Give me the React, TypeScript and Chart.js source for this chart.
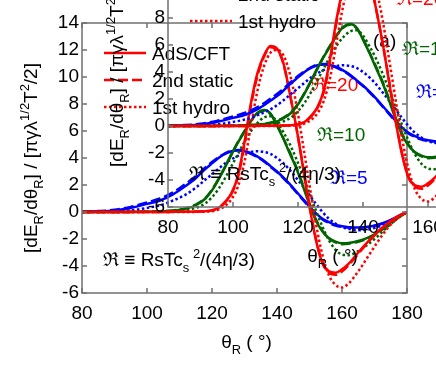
import React, { useEffect, useRef } from "react";
import { Chart, registerables } from "chart.js";

Chart.register(...registerables);

const FONT = "'Liberation Sans', Arial, Helvetica, sans-serif";

// polar angle theta_R (degrees)
const theta = [80, 85, 90, 95, 100, 104, 108, 112, 115, 118, 120, 122, 124, 126, 128, 130, 132, 134, 136, 138, 140, 142, 144, 146, 148, 150, 152, 154, 156, 158, 160, 162, 165, 168, 171, 174, 177, 180];

// R = 20 (red)
const r20AdS = [0, 0, 0, 0, 0, 0, 0.01, 0.02, 0.03, 0.06, 0.12, 0.3, 0.75, 1.4, 2.7, 5.2, 8.1, 10.3, 11.6, 12.3, 12.1, 11.0, 8.7, 6.2, 3.3, 0.4, -2.1, -3.8, -4.4, -4.5, -4.25, -3.85, -3.0, -2.2, -1.45, -0.85, -0.35, 0];
const r20Static = [0, 0, 0, 0, 0, 0, 0.01, 0.02, 0.03, 0.06, 0.12, 0.3, 0.7, 1.35, 2.6, 5.0, 7.9, 10.1, 11.5, 12.2, 12.05, 10.95, 8.7, 6.2, 3.4, 0.5, -2.0, -3.8, -4.5, -4.65, -4.4, -3.95, -3.1, -2.25, -1.5, -0.85, -0.35, 0];
const r20Hydro = [0, 0, 0, 0, 0, 0, 0, 0, 0.01, 0.03, 0.06, 0.18, 0.45, 0.95, 1.9, 3.7, 6.4, 9.0, 10.8, 11.8, 12.0, 11.6, 10.2, 7.9, 5.0, 2.0, -0.9, -3.2, -4.7, -5.4, -5.6, -5.3, -4.4, -3.3, -2.2, -1.2, -0.5, 0];

// R = 10 (green)
const r10AdS = [0, 0, 0, 0.01, 0.02, 0.05, 0.1, 0.25, 0.5, 1.0, 1.6, 2.4, 3.3, 4.25, 5.15, 5.95, 6.75, 7.35, 7.55, 7.3, 6.4, 5.4, 4.3, 3.2, 1.9, 0.55, -0.65, -1.45, -1.95, -2.2, -2.32, -2.3, -2.15, -1.9, -1.5, -0.95, -0.45, 0];
const r10Static = [0, 0, 0, 0.01, 0.03, 0.06, 0.12, 0.28, 0.55, 1.05, 1.65, 2.45, 3.35, 4.3, 5.2, 6.0, 6.75, 7.3, 7.5, 7.25, 6.45, 5.45, 4.4, 3.3, 2.0, 0.65, -0.55, -1.4, -1.95, -2.25, -2.38, -2.35, -2.2, -1.95, -1.55, -1.0, -0.45, 0];
const r10Hydro = [0, 0, 0, 0, 0.01, 0.02, 0.05, 0.15, 0.3, 0.65, 1.1, 1.7, 2.5, 3.4, 4.3, 5.2, 6.0, 6.6, 7.0, 7.1, 6.7, 5.9, 5.0, 3.9, 2.7, 1.4, 0.1, -1.1, -2.1, -2.8, -3.15, -3.2, -2.9, -2.4, -1.8, -1.1, -0.5, 0];

// R = 5 (blue)
const r5AdS = [0.02, 0.05, 0.12, 0.3, 0.6, 0.85, 1.3, 1.95, 2.5, 3.2, 3.6, 4.0, 4.3, 4.5, 4.55, 4.5, 4.35, 4.1, 3.8, 3.4, 3.0, 2.55, 2.05, 1.5, 0.95, 0.4, -0.1, -0.5, -0.75, -0.95, -1.05, -1.12, -1.15, -1.1, -0.95, -0.7, -0.35, 0];
const r5Static = [0.03, 0.07, 0.16, 0.38, 0.7, 1.0, 1.45, 2.1, 2.65, 3.3, 3.7, 4.05, 4.35, 4.55, 4.6, 4.5, 4.3, 4.05, 3.75, 3.35, 2.95, 2.5, 2.0, 1.45, 0.9, 0.35, -0.15, -0.55, -0.8, -1.0, -1.1, -1.15, -1.18, -1.12, -0.97, -0.72, -0.36, 0];
const r5Hydro = [0, 0.02, 0.05, 0.12, 0.3, 0.5, 0.85, 1.3, 1.8, 2.4, 2.8, 3.2, 3.6, 3.9, 4.15, 4.35, 4.45, 4.5, 4.45, 4.3, 4.0, 3.6, 3.1, 2.5, 1.9, 1.25, 0.6, 0.0, -0.5, -0.85, -1.1, -1.25, -1.35, -1.3, -1.1, -0.8, -0.4, 0];

const legendLabels = ["AdS/CFT", "2nd static", "1st hydro"];
const curveLabels = ["\u211C=20", "\u211C=10", "\u211C=5"];

const RED = "#ff0000";
const GREEN = "#006400";
const BLUE = "#0000ff";
const SOLID: number[] = [];
const DASHED = [10, 4];
const DOTTED = [2.5, 2.5];

type Seg = [string, number]; // 0 normal, 1 subscript, 2 superscript

function drawRich(ctx: CanvasRenderingContext2D, segs: Seg[], x: number, y: number, size: number, align: "left" | "center") {
  const small = size * 0.68;
  let w = 0;
  for (const [t, m] of segs) {
    ctx.font = `${m ? small : size}px ${FONT}`;
    w += ctx.measureText(t).width;
  }
  let cx = align === "center" ? x - w / 2 : x;
  ctx.textAlign = "left";
  ctx.textBaseline = "alphabetic";
  for (const [t, m] of segs) {
    ctx.font = `${m ? small : size}px ${FONT}`;
    const dy = m === 1 ? size * 0.3 : m === 2 ? -size * 0.42 : 0;
    ctx.fillText(t, cx, y + dy);
    cx += ctx.measureText(t).width;
  }
}

const decor = {
  id: "decor",
  afterDraw(chart: any) {
    const { ctx, chartArea: a, scales } = chart;
    const xs = scales.x;
    const ys = scales.y;
    ctx.save();
    // frame
    ctx.strokeStyle = "#707070";
    ctx.lineWidth = 1.5;
    ctx.setLineDash([]);
    ctx.strokeRect(a.left, a.top, a.right - a.left, a.bottom - a.top);
    // inward ticks
    const TL = 5;
    ctx.beginPath();
    for (const t of xs.ticks) {
      const px = xs.getPixelForValue(t.value);
      ctx.moveTo(px, a.bottom);
      ctx.lineTo(px, a.bottom - TL);
      ctx.moveTo(px, a.top);
      ctx.lineTo(px, a.top + TL);
    }
    for (const t of ys.ticks) {
      const py = ys.getPixelForValue(t.value);
      ctx.moveTo(a.left, py);
      ctx.lineTo(a.left + TL, py);
      ctx.moveTo(a.right, py);
      ctx.lineTo(a.right - TL, py);
    }
    ctx.stroke();

    // legend
    const dashes = [SOLID, DASHED, DOTTED];
    ctx.fillStyle = "#000";
    for (let i = 0; i < 3; i++) {
      const y = a.top + 30 + i * 27;
      ctx.strokeStyle = RED;
      ctx.lineWidth = 2.5;
      ctx.setLineDash(dashes[i]);
      ctx.beginPath();
      ctx.moveTo(a.left + 22, y);
      ctx.lineTo(a.left + 64, y);
      ctx.stroke();
      ctx.setLineDash([]);
      ctx.font = `19px ${FONT}`;
      ctx.textAlign = "left";
      ctx.textBaseline = "alphabetic";
      ctx.fillText(legendLabels[i], a.left + 70, y + 7);
    }

    // curve labels
    ctx.font = `19px ${FONT}`;
    ctx.fillStyle = RED;
    ctx.fillText(curveLabels[0], a.left + 228, a.top + 68);
    ctx.fillStyle = GREEN;
    ctx.fillText(curveLabels[1], a.left + 235, a.top + 118);
    ctx.fillStyle = BLUE;
    ctx.fillText(curveLabels[2], a.left + 248, a.top + 161);
    ctx.fillStyle = "#000";
    ctx.fillText("(a)", a.left + 291, a.top + 24);

    // formula
    drawRich(ctx, [["\u211C \u2261 RsTc", 0], ["s", 1], [" ", 1], ["2", 2], ["/(4\u03B7/3)", 0]], a.left + 21, a.top + 243, 19, "left");

    // x title
    drawRich(ctx, [["\u03B8", 0], ["R", 1], [" ( \u00B0)", 0]], (a.left + a.right) / 2 + 82 - 80 + 0, a.bottom + 55, 19, "center");

    // y title
    ctx.translate(37, (a.top + a.bottom) / 2);
    ctx.rotate(-Math.PI / 2);
    drawRich(ctx, [["[dE", 0], ["R", 1], ["/d\u03B8", 0], ["R", 1], ["] / [\u03C0\u03B3\u03BB", 0], ["1/2", 2], ["T", 0], ["2", 2], ["/2]", 0]], 0, 0, 19, "center");
    ctx.restore();
  },
};

function ds(label: string, vals: number[], color: string, dash: number[]) {
  return {
    label,
    data: theta.map((t, i) => ({ x: t, y: vals[i] })),
    borderColor: color,
    backgroundColor: color,
    borderWidth: 2.5,
    borderDash: dash,
    pointRadius: 0,
    fill: false,
    cubicInterpolationMode: "monotone" as const,
  };
}

function makeConfig(): any {
  return {
    type: "line",
    data: {
      datasets: [
        ds("R20 AdS/CFT", r20AdS, RED, SOLID),
        ds("R20 2nd static", r20Static, RED, DASHED),
        ds("R20 1st hydro", r20Hydro, RED, DOTTED),
        ds("R10 AdS/CFT", r10AdS, GREEN, SOLID),
        ds("R10 2nd static", r10Static, GREEN, DASHED),
        ds("R10 1st hydro", r10Hydro, GREEN, DOTTED),
        ds("R5 AdS/CFT", r5AdS, BLUE, SOLID),
        ds("R5 2nd static", r5Static, BLUE, DASHED),
        ds("R5 1st hydro", r5Hydro, BLUE, DOTTED),
      ],
    },
    options: {
      responsive: false,
      animation: false,
      devicePixelRatio: 1,
      layout: { padding: { left: 0, top: 23, right: 29, bottom: 0 } },
      plugins: { legend: { display: false }, tooltip: { enabled: false } },
      scales: {
        x: {
          type: "linear",
          min: 80,
          max: 180,
          ticks: { stepSize: 20, color: "#000", font: { size: 19, family: FONT }, padding: 9, maxRotation: 0 },
          grid: { display: false, drawTicks: false },
          border: { display: false },
          afterFit: (s: any) => { s.height = 81; },
        },
        y: {
          type: "linear",
          min: -6,
          max: 14,
          ticks: { stepSize: 2, color: "#000", font: { size: 19, family: FONT }, padding: 3 },
          grid: { display: false, drawTicks: false },
          border: { display: false },
          afterFit: (s: any) => { s.width = 82; },
        },
      },
    },
    plugins: [decor],
  };
}

export default function App() {
  const ref1 = useRef<HTMLCanvasElement>(null);
  const ref2 = useRef<HTMLCanvasElement>(null);
  useEffect(() => {
    const c1 = new Chart(ref1.current as HTMLCanvasElement, makeConfig());
    const c2 = new Chart(ref2.current as HTMLCanvasElement, makeConfig());
    return () => {
      c1.destroy();
      c2.destroy();
    };
  }, []);
  return (
    <div style={{ position: "fixed", left: 0, top: 0, width: 436, height: 374, overflow: "hidden", background: "#fff" }}>
      <canvas ref={ref1} width={436} height={374} style={{ position: "absolute", left: 0, top: 0, width: 436, height: 374 }} />
      <canvas ref={ref2} width={436} height={374} style={{ position: "absolute", left: 86, top: -86, width: 436, height: 374 }} />
    </div>
  );
}
